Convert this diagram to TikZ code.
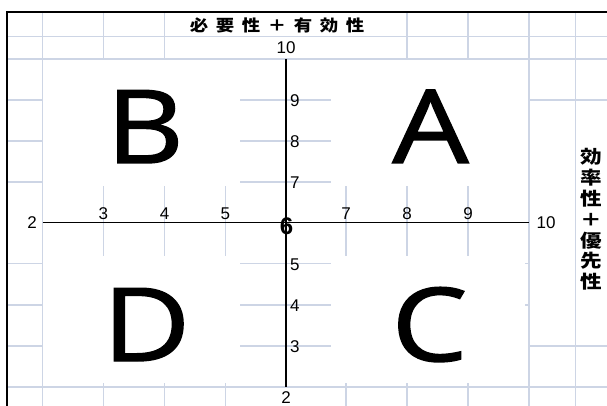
\documentclass[tikz,border=0pt]{standalone}
\usepackage{fontspec}
\setmainfont{Liberation Sans}
\newfontfamily\cjk{Noto Sans CJK JP}
\newfontfamily\letterfont[FakeBold=1.3]{Open Sans}
\definecolor{gridc}{RGB}{205,213,229}
\newcommand{\wide}[1]{\scalebox{1.2}[1]{#1}}
\newcommand{\twide}[1]{\scalebox{1.15}[1]{#1}}
\begin{document}
\begin{tikzpicture}[x=1pt,y=-1pt,
  gridline/.style={draw=gridc, line width=1.6pt},
  borderline/.style={draw=black, line width=2pt},
  axisline/.style={draw=black, line width=1.8pt},
  ticklab/.style={font=\fontsize{17}{17}\selectfont, inner sep=0pt},
  biglet/.style={font=\letterfont\fontsize{102}{102}\selectfont, inner sep=0pt, anchor=base},
  cjklab/.style={font=\cjk\bfseries, inner sep=0pt}]
\useasboundingbox (0,0) rectangle (607,406);
\fill[white] (0,0) rectangle (607,406);
% horizontal grid lines
\foreach \y in {36.7,59,387} \draw[gridline] (7,\y) -- (607,\y);
\foreach \y in {100,141,182,263.5,305,346} {
  \draw[gridline] (7,\y) -- (42.6,\y);
  \draw[gridline] (240,\y) -- (331,\y);
}
\foreach \y in {100,346} \draw[gridline] (529,\y) -- (607,\y);
\foreach \y in {263.5,305} \draw[gridline] (525,\y) -- (529,\y);
% vertical grid lines
\foreach \x in {42.6,529,575.5} \draw[gridline] (\x,12.5) -- (\x,406);
\foreach \x in {103.4,164.5,407,468} \draw[gridline] (\x,12.5) -- (\x,59);
\foreach \x in {103.4,164.5,225.3,346,407,468} {
  \draw[gridline] (\x,186) -- (\x,256);
  \draw[gridline] (\x,383) -- (\x,406);
}
% borders
\draw[borderline] (7,406) -- (7,12.5) -- (607,12.5);
% axes
\coordinate (xl) at (42.6,222.5);
\coordinate (xr) at (529,222.5);
\coordinate (yt) at (286,59);
\coordinate (yb) at (286,387);
\draw[axisline] (xl) -- (xr);
\draw[axisline] (yt) -- (yb);
% axis labels
\node[ticklab] (l2x) at (32,223) {2};
\node[ticklab] (l10x) at (546,223) {10};
\node[ticklab] (l10y) at (286,48) {10};
\node[ticklab] (l2y) at (286,397.5) {2};
\foreach \x/\t in {103.4/3,164.5/4,225.3/5,346/7,407/8,468/9}
  \node[ticklab] (xt\t) at (\x,214) {\t};
\foreach \y/\t in {100/9,141/8,182/7,263.5/5,305/4,346/3}
  \node[ticklab, anchor=west] (yt\t) at (290,\y+1) {\t};
\node[inner sep=0pt, font=\bfseries\fontsize{24}{24}\selectfont] (six) at (286.5,226) {6};
% big letters
\node[biglet] (B) at (145,163) {\scalebox{1.18}[1]{B}};
\node[biglet] (A) at (430.5,163) {\scalebox{1.18}[1]{A}};
\node[biglet] (D) at (146.5,361) {\scalebox{1.18}[1]{D}};
\node[biglet] (C) at (429.5,361) {\scalebox{1.18}[1]{C}};
% titles
\node[cjklab, font=\cjk\bfseries\fontsize{16}{16}\selectfont] (title) at (277,25)
  {\twide{必\hspace{6.6pt}要\hspace{6.6pt}性\hspace{6.6pt}＋\hspace{6.6pt}有\hspace{6.6pt}効\hspace{6.6pt}性}};
\node[cjklab, font=\cjk\bfseries\fontsize{18}{20.8}\selectfont, align=center] (side) at (591,219.5)
  {\wide{効}\\\wide{率}\\\wide{性}\\\wide{＋}\\\wide{優}\\\wide{先}\\\wide{性}};
\end{tikzpicture}
\end{document}
